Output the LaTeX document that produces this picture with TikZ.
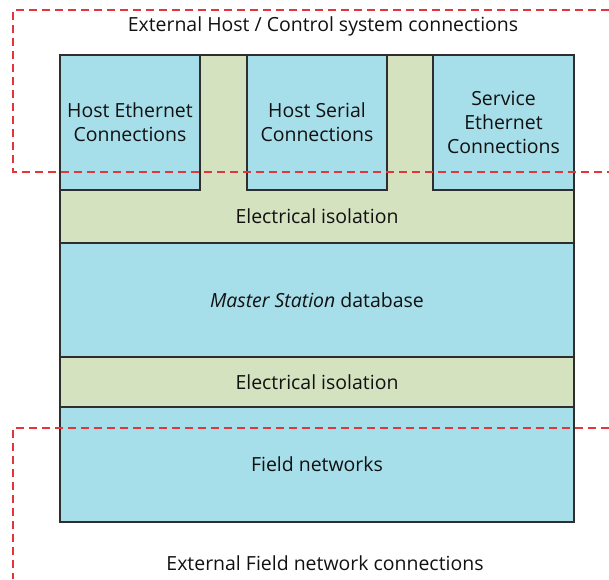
\documentclass[tikz,border=0pt]{standalone}
\usepackage{fontspec}
\setmainfont{Open Sans}
\usetikzlibrary{positioning}
\definecolor{cLayer}{HTML}{A6DEE9}
\definecolor{cIso}{HTML}{D4E2BF}
\definecolor{cEdge}{HTML}{2E2E2E}
\definecolor{cBound}{HTML}{E2363A}
\definecolor{cInk}{HTML}{111111}
\begin{document}
\begin{tikzpicture}[x=0.75pt, y=-0.75pt,
  font=\fontsize{14.6}{18}\selectfont, text=cInk,
  layer/.style={rectangle, draw=cEdge, line width=0.8pt, fill=cLayer,
    outer sep=0pt, inner sep=2pt, minimum width=385.5pt, align=center},
  iso/.style={layer, fill=cIso},
  port/.style={layer, minimum width=105pt, minimum height=101.25pt},
  bound/.style={draw=cBound, line width=0.85pt, dash pattern=on 6pt off 3.75pt},
  caption/.style={inner sep=0pt},
]
\useasboundingbox (0,0) rectangle (609,579);
% ---------------------------------------------------------------- host side
\node[iso, minimum height=141pt, anchor=north west] (back) at (60,55) {};
\node[minimum height=39.75pt, anchor=south, inner sep=0pt] (isotop) at (back.south)
  {Electrical isolation};
\node[port, anchor=north west] (heth) at (60,55) {Host Ethernet\\Connections};
\node[port, anchor=north west] (hser) at (247,55) {Host Serial\\Connections};
\node[port, anchor=north west, minimum width=105.75pt] (seth) at (433,55)
  {Service\\Ethernet\\Connections};
% ---------------------------------------------------------------- core
\node[layer, minimum height=85.5pt, below=0pt of isotop] (master)
  {\textit{Master Station} database};
\node[iso, minimum height=37.5pt, below=0pt of master] (isobot)
  {Electrical isolation};
\node[layer, minimum height=86.25pt, below=0pt of isobot] (field)
  {Field networks};
% ---------------------------------------------------------------- boundaries
\node[caption] (hostcap) at (323,26) {External Host / Control system connections};
\node[caption] (fieldcap) at (325,563) {External Field network connections};
\draw[bound] (609,10) -- (13,10) -- (13,172) -- (609,172);
\draw[bound] (609,428) -- (13,428) -- (13,579);
\end{tikzpicture}
\end{document}
